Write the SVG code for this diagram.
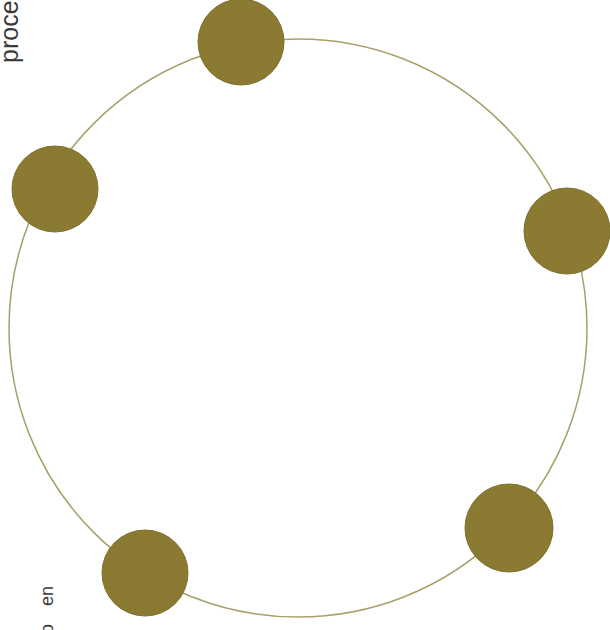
<svg xmlns="http://www.w3.org/2000/svg" width="610" height="630" viewBox="0 0 610 630">
<style>
.node{fill:#8b7a31;stroke:#7d6e2a;stroke-width:1}
.ring{fill:none;stroke:#a8a068;stroke-width:1.5}
.lbl{font-family:"Liberation Sans",Arial,sans-serif;fill:#3a3a3a}
</style>
<rect width="610" height="630" fill="#ffffff"/>
<g id="connectors">
<circle class="ring" cx="298" cy="328" r="289"/>
</g>
<g id="node-top"><circle class="node" cx="241" cy="42" r="43"/></g>
<g id="node-left"><circle class="node" cx="55" cy="189" r="43"/></g>
<g id="node-right"><circle class="node" cx="567" cy="231" r="43"/></g>
<g id="node-bottom-right"><circle class="node" cx="509" cy="528" r="44"/></g>
<g id="node-bottom-left"><circle class="node" cx="145" cy="573" r="43"/></g>
<g id="labels">
<text class="lbl" font-size="25" transform="translate(18,63) rotate(-90)">proce</text>
<text class="lbl" font-size="18" transform="translate(53,606) rotate(-90)">en</text>
<text class="lbl" font-size="18" transform="translate(53,634) rotate(-90)">o</text>
</g>
</svg>
